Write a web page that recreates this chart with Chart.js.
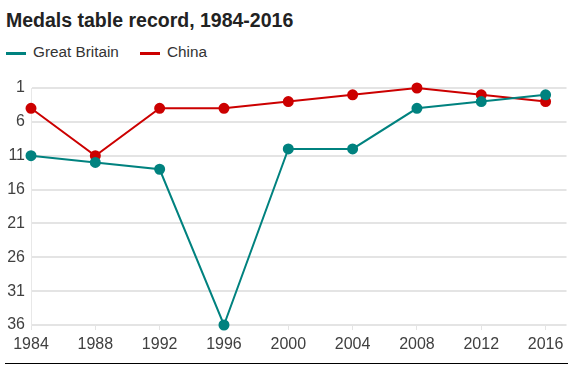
<!DOCTYPE html>
<html>
<head>
<meta charset="utf-8">
<script src="https://cdn.jsdelivr.net/npm/chart.js@4"></script>
<style>
  body { margin: 0; width: 573px; height: 366px; background: #fff; font-family: "Liberation Sans", Arial, sans-serif; position: relative; overflow: hidden; }
  #title { position: absolute; left: 6px; top: 9px; font-size: 19.5px; font-weight: bold; color: #222; }
  .leg { position: absolute; top: 43px; font-size: 15.3px; color: #333; }
  .sw { position: absolute; top: 52px; width: 20px; height: 3px; }
  #wrap { position: absolute; left: 0; top: 70px; width: 573px; height: 290px; }
  #rule { position: absolute; left: 5px; top: 363px; width: 563px; height: 1px; background: #000; }
</style>
</head>
<body>
<div id="title">Medals table record, 1984-2016</div>
<div class="sw" style="left:6px;background:#00827f"></div>
<div class="leg" style="left:33px">Great Britain</div>
<div class="sw" style="left:140px;background:#cc0000"></div>
<div class="leg" style="left:167px">China</div>
<div id="wrap"><canvas id="medalsChart"></canvas></div>
<div id="rule"></div>
<script>
// ==========================================
// DATA
// ==========================================
const years = [1984, 1988, 1992, 1996, 2000, 2004, 2008, 2012, 2016];
const greatBritain = [11, 12, 13, 36, 10, 10, 4, 3, 2];
const china = [4, 11, 4, 4, 3, 2, 1, 2, 3];
const rankTicks = [1, 6, 11, 16, 21, 26, 31, 36];

function toPoints(values) {
    return years.map((y, i) => ({ x: y, y: values[i] }));
}

const ctx = document.getElementById('medalsChart');
new Chart(ctx, {
    type: 'line',
    data: {
        datasets: [
            {
                label: 'Great Britain',
                data: toPoints(greatBritain),
                borderColor: '#00827f',
                backgroundColor: '#00827f',
                borderWidth: 2,
                pointRadius: 4.5,
                pointHoverRadius: 4.5,
                clip: false
            },
            {
                label: 'China',
                data: toPoints(china),
                borderColor: '#cc0000',
                backgroundColor: '#cc0000',
                borderWidth: 2,
                pointRadius: 4.5,
                pointHoverRadius: 4.5,
                clip: false
            }
        ]
    },
    options: {
        responsive: true,
        maintainAspectRatio: false,
        animation: false,
        layout: { padding: { top: 18, left: 0, right: 0, bottom: 0 } },
        plugins: {
            legend: { display: false },
            tooltip: { enabled: false }
        },
        scales: {
            x: {
                type: 'linear',
                min: 1984,
                max: 2017.3,
                afterBuildTicks: scale => { scale.ticks = years.map(v => ({ value: v })); },
                afterFit: scale => { scale.height = 35; },
                grid: { drawOnChartArea: false, color: '#e4e4e4', tickLength: 5, lineWidth: 1 },
                border: { display: false },
                ticks: {
                    color: '#404040',
                    font: { family: 'Liberation Sans', size: 16 },
                    padding: 5,
                    maxRotation: 0,
                    autoSkip: false,
                    callback: v => String(v)
                }
            },
            y: {
                reverse: true,
                min: 1,
                max: 36,
                afterBuildTicks: scale => { scale.ticks = rankTicks.map(v => ({ value: v })); },
                afterFit: scale => { scale.width = 31; },
                grid: { color: '#e4e4e4', lineWidth: 2, drawTicks: false },
                border: { display: true, color: '#e8e8e8', width: 1 },
                ticks: {
                    color: '#404040',
                    font: { family: 'Liberation Sans', size: 16 },
                    padding: 6
                }
            }
        }
    }
});
</script>
</body>
</html>
